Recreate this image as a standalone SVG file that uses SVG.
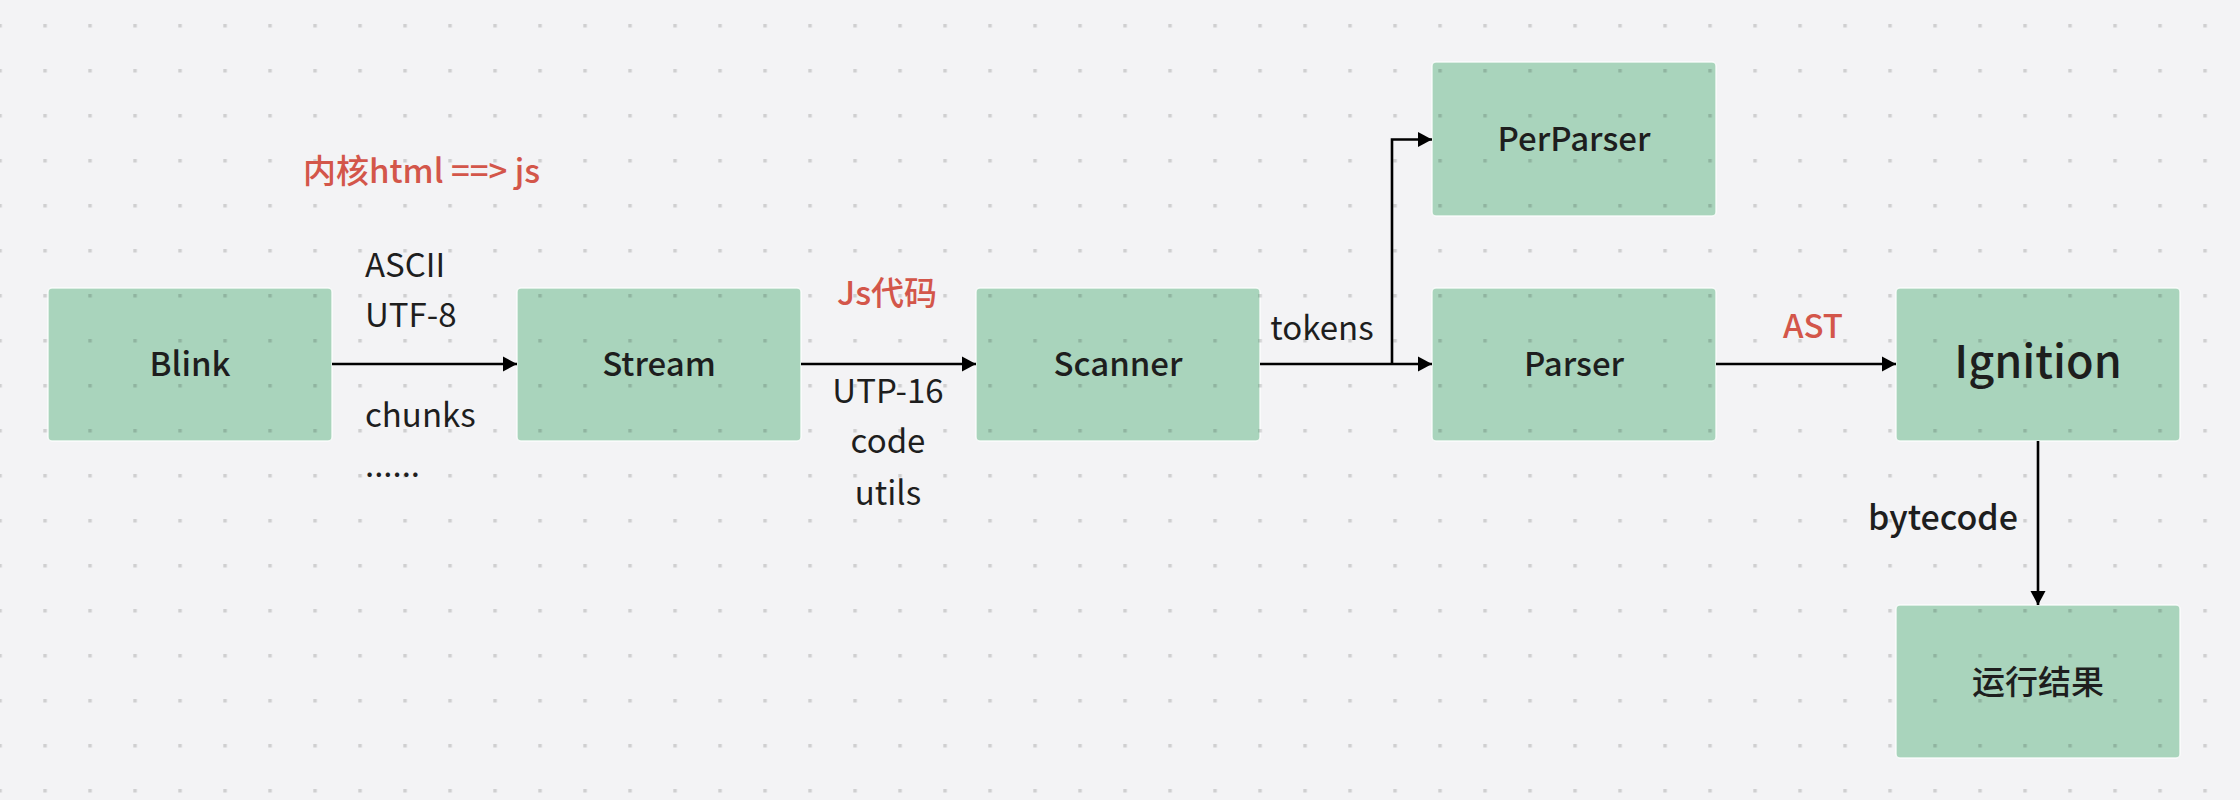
<svg xmlns="http://www.w3.org/2000/svg" width="2240" height="800" viewBox="0 0 2240 800">
<defs>
<style>
.box{fill:#a9d4bc;stroke:#ffffff;stroke-opacity:0.8;stroke-width:1.5}
.nt{font-family:"Noto Sans CJK SC","Noto Sans",sans-serif;font-size:33px;font-weight:500;fill:#1e1e1e;text-anchor:middle}
.lbl{font-family:"Noto Sans CJK SC","Noto Sans",sans-serif;font-size:33px;fill:#1e1e1e}
.red{font-family:"Noto Sans CJK SC","Noto Sans",sans-serif;font-size:33px;font-weight:500;fill:#d3564a}
.edge{fill:none;stroke:#000;stroke-width:2.6;marker-end:url(#arr)}
</style>
<marker id="arr" markerUnits="userSpaceOnUse" markerWidth="16" markerHeight="16" viewBox="0 0 16 16" refX="15" refY="8" orient="auto">
<path d="M1,0.5 L15,8 L1,15.5 Z" fill="#000"/>
</marker>
<pattern id="dots" width="45" height="45" patternUnits="userSpaceOnUse" x="-1.7" y="24">
<rect x="0" y="0" width="3.5" height="3.5" fill="#000" fill-opacity="0.15"/>
</pattern>
</defs>
<rect x="0" y="0" width="2240" height="800" fill="#f3f3f5"/>

<g id="node-blink"><rect class="box" x="48" y="288" width="284" height="153" rx="4"/><text class="nt" x="190" y="376">Blink</text></g>
<g id="node-stream"><rect class="box" x="517" y="288" width="284" height="153" rx="4"/><text class="nt" x="659" y="376">Stream</text></g>
<g id="node-scanner"><rect class="box" x="976" y="288" width="284" height="153" rx="4"/><text class="nt" x="1118" y="376">Scanner</text></g>
<g id="node-perparser"><rect class="box" x="1432" y="62" width="284" height="154" rx="4"/><text class="nt" x="1574" y="151">PerParser</text></g>
<g id="node-parser"><rect class="box" x="1432" y="288" width="284" height="153" rx="4"/><text class="nt" x="1574" y="376">Parser</text></g>
<g id="node-ignition"><rect class="box" x="1896" y="288" width="284" height="153" rx="4"/><text class="nt" x="2038" y="378" style="font-size:45px">Ignition</text></g>
<g id="node-result"><rect class="box" x="1896" y="605" width="284" height="153" rx="4"/><text class="nt" x="2038" y="694">运行结果</text></g>

<rect x="0" y="0" width="2240" height="800" fill="url(#dots)"/>

<g id="connectors">
<path class="edge" d="M332,364 H517"/>
<path class="edge" d="M801,364 H976"/>
<path class="edge" d="M1260,364 H1432"/>
<path class="edge" d="M1392,364 V139.5 H1432"/>
<path class="edge" d="M1716,364 H1896"/>
<path class="edge" d="M2038,441 V605"/>
</g>

<g id="labels">
<text class="red" x="303" y="183">内核html ==&gt; js</text>
<text class="lbl" x="365" y="277">ASCII</text>
<text class="lbl" x="365" y="327">UTF-8</text>
<text class="lbl" x="365" y="427">chunks</text>
<text class="lbl" x="365" y="477">......</text>
<text class="red" x="887" y="305" text-anchor="middle">Js代码</text>
<text class="lbl" x="888" y="403" text-anchor="middle">UTP-16</text>
<text class="lbl" x="888" y="453" text-anchor="middle">code</text>
<text class="lbl" x="888" y="505" text-anchor="middle">utils</text>
<text class="lbl" x="1322" y="340" text-anchor="middle">tokens</text>
<text class="red" x="1813" y="338" text-anchor="middle">AST</text>
<text class="lbl" x="1943" y="530" text-anchor="middle" style="font-weight:500;font-size:34px">bytecode</text>
</g>
</svg>
